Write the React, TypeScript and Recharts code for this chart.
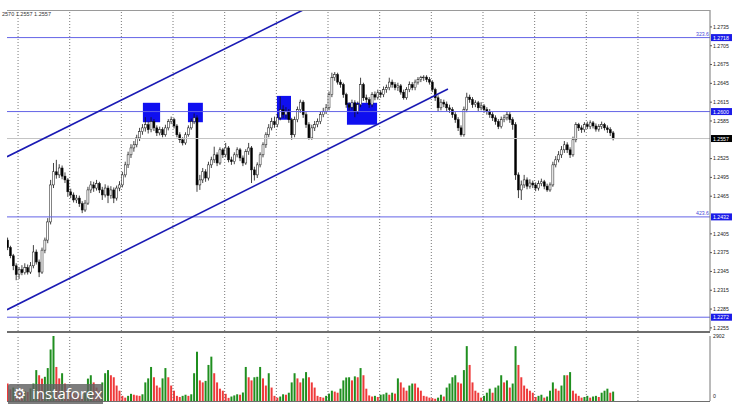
import React from 'react';
import { ComposedChart, Bar, XAxis, YAxis, ReferenceLine, ReferenceArea, Cell } from 'recharts';

// ---- data ----
const opens = [
  1.2395, 1.2383, 1.2370, 1.2354, 1.2340, 1.2348, 1.2343, 1.2351, 1.2344, 1.2354,
  1.2376, 1.2360, 1.2344, 1.2379, 1.2395, 1.2424, 1.2483, 1.2504, 1.2499, 1.2510,
  1.2497, 1.2491, 1.2472, 1.2467, 1.2459, 1.2462, 1.2453, 1.2443, 1.2454, 1.2475,
  1.2483, 1.2478, 1.2485, 1.2475, 1.2467, 1.2478, 1.2466, 1.2475, 1.2462, 1.2478,
  1.2483, 1.2499, 1.2515, 1.2531, 1.2542, 1.2547, 1.2558, 1.2568, 1.2574, 1.2579,
  1.2571, 1.2584, 1.2574, 1.2566, 1.2571, 1.2563, 1.2574, 1.2584, 1.2587, 1.2577,
  1.2563, 1.2555, 1.2550, 1.2563, 1.2574, 1.2584, 1.2590, 1.2483, 1.2491, 1.2504,
  1.2494, 1.2515, 1.2523, 1.2531, 1.2518, 1.2539, 1.2531, 1.2542, 1.2523, 1.2520,
  1.2531, 1.2539, 1.2526, 1.2518, 1.2536, 1.2542, 1.2507, 1.2499, 1.2515, 1.2531,
  1.2547, 1.2563, 1.2574, 1.2584, 1.2579, 1.2590, 1.2603, 1.2595, 1.2600, 1.2587,
  1.2563, 1.2587, 1.2603, 1.2615, 1.2595, 1.2579, 1.2558, 1.2574, 1.2579, 1.2584,
  1.2595, 1.2600, 1.2606, 1.2627, 1.2654, 1.2659, 1.2647, 1.2643, 1.2627, 1.2611,
  1.2607, 1.2614, 1.2600, 1.2611, 1.2643, 1.2622, 1.2619, 1.2611, 1.2627, 1.2623,
  1.2630, 1.2627, 1.2635, 1.2638, 1.2647, 1.2643, 1.2638, 1.2641, 1.2631, 1.2622,
  1.2635, 1.2643, 1.2638, 1.2647, 1.2651, 1.2654, 1.2655, 1.2651, 1.2647, 1.2635,
  1.2622, 1.2606, 1.2615, 1.2612, 1.2606, 1.2603, 1.2595, 1.2587, 1.2574, 1.2563,
  1.2603, 1.2623, 1.2619, 1.2611, 1.2614, 1.2606, 1.2609, 1.2603, 1.2600, 1.2595,
  1.2590, 1.2584, 1.2576, 1.2587, 1.2590, 1.2595, 1.2587, 1.2579, 1.2499, 1.2475,
  1.2483, 1.2491, 1.2481, 1.2486, 1.2483, 1.2478, 1.2485, 1.2488, 1.2481, 1.2475,
  1.2483, 1.2515, 1.2523, 1.2531, 1.2539, 1.2547, 1.2539, 1.2531, 1.2555, 1.2579,
  1.2574, 1.2571, 1.2579, 1.2576, 1.2582, 1.2577, 1.2572, 1.2576, 1.2579, 1.2574,
  1.2571, 1.2566,
];

const highs = [
  1.2399, 1.2386, 1.2373, 1.2358, 1.2352, 1.2355, 1.2358, 1.2356, 1.2360, 1.2387,
  1.2380, 1.2364, 1.2383, 1.2399, 1.2430, 1.2491, 1.2518, 1.2523, 1.2516, 1.2514,
  1.2503, 1.2494, 1.2477, 1.2471, 1.2467, 1.2466, 1.2457, 1.2459, 1.2480, 1.2489,
  1.2488, 1.2491, 1.2488, 1.2480, 1.2484, 1.2482, 1.2481, 1.2479, 1.2482, 1.2489,
  1.2504, 1.2520, 1.2536, 1.2548, 1.2553, 1.2563, 1.2574, 1.2580, 1.2591, 1.2584,
  1.2591, 1.2588, 1.2578, 1.2576, 1.2575, 1.2579, 1.2588, 1.2592, 1.2590, 1.2580,
  1.2567, 1.2559, 1.2567, 1.2578, 1.2589, 1.2597, 1.2594, 1.2499, 1.2510, 1.2508,
  1.2520, 1.2528, 1.2544, 1.2535, 1.2543, 1.2542, 1.2550, 1.2545, 1.2528, 1.2535,
  1.2543, 1.2542, 1.2530, 1.2540, 1.2550, 1.2545, 1.2512, 1.2519, 1.2535, 1.2551,
  1.2567, 1.2580, 1.2590, 1.2592, 1.2596, 1.2624, 1.2610, 1.2607, 1.2604, 1.2590,
  1.2592, 1.2608, 1.2619, 1.2618, 1.2599, 1.2583, 1.2579, 1.2585, 1.2589, 1.2600,
  1.2606, 1.2612, 1.2632, 1.2662, 1.2663, 1.2662, 1.2651, 1.2646, 1.2630, 1.2615,
  1.2619, 1.2618, 1.2616, 1.2654, 1.2646, 1.2627, 1.2623, 1.2631, 1.2632, 1.2635,
  1.2634, 1.2640, 1.2643, 1.2654, 1.2651, 1.2647, 1.2646, 1.2644, 1.2635, 1.2639,
  1.2648, 1.2647, 1.2651, 1.2655, 1.2657, 1.2658, 1.2658, 1.2655, 1.2650, 1.2638,
  1.2626, 1.2620, 1.2619, 1.2616, 1.2611, 1.2607, 1.2599, 1.2591, 1.2578, 1.2608,
  1.2630, 1.2627, 1.2623, 1.2618, 1.2617, 1.2615, 1.2612, 1.2607, 1.2604, 1.2599,
  1.2594, 1.2588, 1.2592, 1.2595, 1.2600, 1.2599, 1.2591, 1.2583, 1.2503, 1.2490,
  1.2499, 1.2495, 1.2492, 1.2490, 1.2487, 1.2490, 1.2493, 1.2491, 1.2485, 1.2487,
  1.2520, 1.2529, 1.2537, 1.2545, 1.2553, 1.2551, 1.2543, 1.2560, 1.2583, 1.2582,
  1.2578, 1.2583, 1.2584, 1.2586, 1.2585, 1.2581, 1.2580, 1.2584, 1.2582, 1.2578,
  1.2575, 1.2569,
];

const lows = [
  1.2379, 1.2366, 1.2347, 1.2331, 1.2333, 1.2339, 1.2340, 1.2340, 1.2341, 1.2350,
  1.2356, 1.2336, 1.2341, 1.2374, 1.2390, 1.2420, 1.2478, 1.2493, 1.2494, 1.2492,
  1.2486, 1.2464, 1.2462, 1.2455, 1.2454, 1.2448, 1.2438, 1.2440, 1.2451, 1.2470,
  1.2472, 1.2474, 1.2470, 1.2459, 1.2463, 1.2454, 1.2461, 1.2454, 1.2458, 1.2473,
  1.2479, 1.2495, 1.2510, 1.2526, 1.2536, 1.2543, 1.2553, 1.2563, 1.2568, 1.2565,
  1.2567, 1.2569, 1.2561, 1.2562, 1.2559, 1.2560, 1.2570, 1.2580, 1.2573, 1.2559,
  1.2550, 1.2546, 1.2547, 1.2560, 1.2571, 1.2580, 1.2472, 1.2475, 1.2486, 1.2488,
  1.2490, 1.2510, 1.2518, 1.2513, 1.2515, 1.2526, 1.2527, 1.2519, 1.2515, 1.2516,
  1.2527, 1.2521, 1.2513, 1.2515, 1.2531, 1.2486, 1.2490, 1.2494, 1.2511, 1.2527,
  1.2542, 1.2559, 1.2570, 1.2574, 1.2575, 1.2586, 1.2590, 1.2589, 1.2582, 1.2555,
  1.2559, 1.2583, 1.2598, 1.2590, 1.2574, 1.2555, 1.2555, 1.2569, 1.2575, 1.2580,
  1.2591, 1.2596, 1.2602, 1.2623, 1.2649, 1.2643, 1.2638, 1.2622, 1.2606, 1.2602,
  1.2603, 1.2591, 1.2596, 1.2607, 1.2617, 1.2614, 1.2606, 1.2607, 1.2618, 1.2619,
  1.2622, 1.2623, 1.2630, 1.2634, 1.2638, 1.2634, 1.2633, 1.2627, 1.2619, 1.2619,
  1.2631, 1.2634, 1.2634, 1.2643, 1.2647, 1.2649, 1.2647, 1.2643, 1.2631, 1.2617,
  1.2600, 1.2602, 1.2607, 1.2601, 1.2598, 1.2590, 1.2582, 1.2569, 1.2560, 1.2560,
  1.2599, 1.2614, 1.2606, 1.2607, 1.2601, 1.2602, 1.2598, 1.2595, 1.2590, 1.2585,
  1.2579, 1.2572, 1.2573, 1.2583, 1.2586, 1.2582, 1.2571, 1.2491, 1.2462, 1.2459,
  1.2478, 1.2476, 1.2477, 1.2478, 1.2473, 1.2474, 1.2481, 1.2476, 1.2472, 1.2472,
  1.2480, 1.2511, 1.2519, 1.2526, 1.2534, 1.2534, 1.2526, 1.2528, 1.2551, 1.2569,
  1.2566, 1.2567, 1.2572, 1.2572, 1.2573, 1.2568, 1.2568, 1.2572, 1.2570, 1.2566,
  1.2561, 1.2554,
];

const closes = [
  1.2383, 1.2370, 1.2354, 1.2340, 1.2348, 1.2343, 1.2351, 1.2344, 1.2354, 1.2376,
  1.2360, 1.2344, 1.2379, 1.2395, 1.2424, 1.2483, 1.2504, 1.2499, 1.2510, 1.2497,
  1.2491, 1.2472, 1.2467, 1.2459, 1.2462, 1.2453, 1.2443, 1.2454, 1.2475, 1.2483,
  1.2478, 1.2485, 1.2475, 1.2467, 1.2478, 1.2466, 1.2475, 1.2462, 1.2478, 1.2483,
  1.2499, 1.2515, 1.2531, 1.2542, 1.2547, 1.2558, 1.2568, 1.2574, 1.2579, 1.2571,
  1.2584, 1.2574, 1.2566, 1.2571, 1.2563, 1.2574, 1.2584, 1.2587, 1.2577, 1.2563,
  1.2555, 1.2550, 1.2563, 1.2574, 1.2584, 1.2590, 1.2483, 1.2491, 1.2504, 1.2494,
  1.2515, 1.2523, 1.2531, 1.2518, 1.2539, 1.2531, 1.2542, 1.2523, 1.2520, 1.2531,
  1.2539, 1.2526, 1.2518, 1.2536, 1.2542, 1.2507, 1.2499, 1.2515, 1.2531, 1.2547,
  1.2563, 1.2574, 1.2584, 1.2579, 1.2590, 1.2603, 1.2595, 1.2600, 1.2587, 1.2563,
  1.2587, 1.2603, 1.2615, 1.2595, 1.2579, 1.2558, 1.2574, 1.2579, 1.2584, 1.2595,
  1.2600, 1.2606, 1.2627, 1.2654, 1.2659, 1.2647, 1.2643, 1.2627, 1.2611, 1.2607,
  1.2614, 1.2600, 1.2611, 1.2643, 1.2622, 1.2619, 1.2611, 1.2627, 1.2623, 1.2630,
  1.2627, 1.2635, 1.2638, 1.2647, 1.2643, 1.2638, 1.2641, 1.2631, 1.2622, 1.2635,
  1.2643, 1.2638, 1.2647, 1.2651, 1.2654, 1.2655, 1.2651, 1.2647, 1.2635, 1.2622,
  1.2606, 1.2615, 1.2612, 1.2606, 1.2603, 1.2595, 1.2587, 1.2574, 1.2563, 1.2603,
  1.2623, 1.2619, 1.2611, 1.2614, 1.2606, 1.2609, 1.2603, 1.2600, 1.2595, 1.2590,
  1.2584, 1.2576, 1.2587, 1.2590, 1.2595, 1.2587, 1.2579, 1.2499, 1.2475, 1.2483,
  1.2491, 1.2481, 1.2486, 1.2483, 1.2478, 1.2485, 1.2488, 1.2481, 1.2475, 1.2483,
  1.2515, 1.2523, 1.2531, 1.2539, 1.2547, 1.2539, 1.2531, 1.2555, 1.2579, 1.2574,
  1.2571, 1.2579, 1.2576, 1.2582, 1.2577, 1.2572, 1.2576, 1.2579, 1.2574, 1.2571,
  1.2566, 1.2557,
];

const volumes = [
  780, 520, 600, 480, 420, 380, 450, 400, 560, 780,
  1380, 1150, 1000, 1080, 1470, 2300, 2902, 1520, 1010, 1240,
  780, 550, 420, 350, 300, 260, 230, 350, 1000, 1150,
  830, 600, 460, 830, 1240, 1380, 1150, 1060, 690, 460,
  230, 150, 230, 320, 280, 250, 230, 300, 830, 1010,
  1520, 1060, 690, 600, 1010, 1470, 1060, 690, 460, 230,
  180, 230, 280, 230, 300, 1240, 2200, 920, 830, 900,
  1610, 1980, 1240, 830, 550, 460, 320, 140, 200, 250,
  300, 280, 380, 1520, 1060, 920, 1060, 1080, 1520, 1010,
  690, 1240, 600, 230, 150, 200, 300, 280, 370, 830,
  1240, 1010, 830, 1010, 1290, 1060, 830, 600, 230, 180,
  150, 230, 330, 460, 420, 370, 550, 920, 1050, 1060,
  920, 1100, 1060, 1470, 1150, 550, 250, 200, 230, 180,
  280, 300, 370, 280, 370, 330, 1010, 830, 600, 460,
  690, 780, 780, 600, 460, 230, 200, 150, 130, 100,
  150, 280, 200, 600, 780, 1060, 1150, 830, 780, 1380,
  2450, 1610, 830, 460, 370, 150, 230, 370, 550, 370,
  600, 690, 1150, 830, 920, 600, 780, 2450, 1610, 1060,
  690, 550, 460, 370, 180, 230, 280, 150, 200, 460,
  830, 550, 460, 690, 1150, 1150, 1290, 460, 330, 230,
  150, 180, 230, 150, 200, 230, 180, 370, 460, 550,
  370, 420,
];

const priceTicks = [1.2735, 1.2705, 1.2675, 1.2645, 1.2615, 1.2585, 1.2525, 1.2495, 1.2465, 1.2405, 1.2375, 1.2345, 1.2315, 1.2285, 1.2255];
const volumeTicks = [0, 2902];
const levelPrices = [1.2718, 1.26, 1.2432, 1.2272];
const levelTags = ['323.6', '', '423.6', ''];
const lastPrice = 1.2557;
const dayStarts = [3.5, 21.5, 39.5, 57.5, 75.5, 93.5, 111.5, 129.5, 147.5, 165.5, 183.5, 201.5, 219.5];
// channel lines: [barIndex, price]
const upperChannel = [[-0.35, 1.2528], [102.8, 1.2762]];
const lowerChannel = [[-0.35, 1.2284], [153.3, 1.2636]];
// marked zones: [fromBar, toBar, lowPrice, highPrice]
const zones = [
  [47.0, 53.0, 1.2583, 1.2614],
  [62.7, 67.9, 1.2583, 1.2614],
  [93.7, 98.6, 1.2587, 1.2625],
  [118.1, 128.6, 1.2579, 1.2614],
];
const headerText = '2570 1.2557 1.2557';

// ---- layout / style ----
const X_DOMAIN: [number, number] = [-0.35, 244.6];
const PRICE_DOMAIN: [number, number] = [1.225, 1.2762];
const LEVEL_COLOR = '#6464e6';
const TAG_BLUE = '#1c1ce8';
const CHANNEL_COLOR = '#1a1ab4';
const FONT = '"Liberation Sans", Arial, sans-serif';

const rows = closes.map((c, i) => ({
  i,
  open: opens[i],
  high: highs[i],
  low: lows[i],
  close: c,
  range: [lows[i], highs[i]],
  volume: volumes[i],
}));

const Candle = (props: any) => {
  const { x, y, width, height, payload } = props;
  if (x == null || y == null) return null;
  const { open, close, high, low } = payload;
  const cx = x + width / 2;
  const span = high - low;
  const py = (v: number) => (span === 0 ? y : y + ((high - v) / span) * height);
  const top = py(Math.max(open, close));
  const bot = py(Math.min(open, close));
  const bull = close >= open;
  return (
    <g>
      <line x1={cx} x2={cx} y1={y} y2={y + height} stroke="#111" strokeWidth={0.8} />
      <rect
        x={cx - 1}
        y={top}
        width={2}
        height={Math.max(bot - top, 0.7)}
        fill={bull ? '#ffffff' : '#000000'}
        stroke="#111"
        strokeWidth={0.5}
      />
    </g>
  );
};

const Tag = (props: any) => {
  const { viewBox, text, bg, note } = props;
  if (!viewBox) return null;
  const { x, y, width } = viewBox;
  return (
    <g>
      {note ? (
        <text x={x + width - 1} y={y - 1.5} fontSize={5.2} fill="#4a4ad8" textAnchor="end" fontFamily={FONT}>
          {note}
        </text>
      ) : null}
      <rect x={x + width + 1} y={y - 3.5} width={21} height={7} fill={bg} />
      <text x={x + width + 3} y={y + 2} fontSize={5.2} fill="#ffffff" fontFamily={FONT}>
        {text}
      </text>
    </g>
  );
};

const VolTick = (props: any) => {
  const { x, y, payload } = props;
  return (
    <text x={x} y={payload.value === 0 ? y - 3 : y + 2} fontSize={5.2} fill="#222" fontFamily={FONT}>
      {payload.value}
    </text>
  );
};

const line = (style: React.CSSProperties) => <div style={{ position: 'absolute', ...style }} />;

export default function App() {
  return (
    <div
      style={{
        position: 'absolute',
        left: 0,
        top: 0,
        width: 734,
        height: 404,
        overflow: 'hidden',
        background: '#ffffff',
        fontFamily: FONT,
      }}
    >
      <div style={{ position: 'absolute', left: 0, top: 0 }}>
        <ComposedChart width={734} height={332} data={rows} margin={{ top: 10, right: 0, bottom: 1, left: 7 }}>
          <XAxis dataKey="i" type="number" domain={X_DOMAIN} allowDataOverflow hide />
          <YAxis
            yAxisId={0}
            orientation="right"
            width={24}
            domain={PRICE_DOMAIN}
            allowDataOverflow
            ticks={priceTicks}
            interval={0}
            tickFormatter={(v: number) => v.toFixed(4)}
            tick={{ fontSize: 5.2, fill: '#222', fontFamily: FONT }}
            tickSize={2}
            tickMargin={1}
            axisLine={{ stroke: '#777' }}
            tickLine={{ stroke: '#555' }}
          />
          {dayStarts.map((d) => (
            <ReferenceLine key={'g' + d} x={d} stroke="#555" strokeDasharray="1 2" strokeWidth={0.8} />
          ))}
          {zones.map((z, k) => (
            <ReferenceArea
              key={'z' + k}
              x1={z[0]}
              x2={z[1]}
              y1={z[2]}
              y2={z[3]}
              fill="#0f0ff0"
              fillOpacity={1}
              stroke="none"
              ifOverflow="visible"
            />
          ))}
          <ReferenceLine
            y={lastPrice}
            stroke="#c4c4c4"
            strokeWidth={1}
            label={<Tag text={lastPrice.toFixed(4)} bg="#000000" />}
          />
          {levelPrices.map((p, k) => (
            <ReferenceLine
              key={'l' + p}
              y={p}
              stroke={LEVEL_COLOR}
              strokeWidth={1}
              label={<Tag text={p.toFixed(4)} bg={TAG_BLUE} note={levelTags[k]} />}
            />
          ))}
          <Bar dataKey="range" barSize={2} shape={Candle} isAnimationActive={false} />
          <ReferenceLine
            segment={[
              { x: upperChannel[0][0], y: upperChannel[0][1] },
              { x: upperChannel[1][0], y: upperChannel[1][1] },
            ]}
            stroke={CHANNEL_COLOR}
            strokeWidth={1.6}
            ifOverflow="hidden"
          />
          <ReferenceLine
            segment={[
              { x: lowerChannel[0][0], y: lowerChannel[0][1] },
              { x: lowerChannel[1][0], y: lowerChannel[1][1] },
            ]}
            stroke={CHANNEL_COLOR}
            strokeWidth={1.6}
            ifOverflow="hidden"
          />
        </ComposedChart>
      </div>

      <div style={{ position: 'absolute', left: 0, top: 332 }}>
        <ComposedChart width={734} height={80} data={rows} margin={{ top: 4, right: 0, bottom: 11, left: 7 }}>
          <XAxis dataKey="i" type="number" domain={X_DOMAIN} allowDataOverflow hide />
          <YAxis
            orientation="right"
            width={24}
            domain={[0, 2902]}
            allowDataOverflow
            ticks={volumeTicks}
            interval={0}
            tick={<VolTick />}
            tickSize={0}
            tickMargin={3}
            axisLine={{ stroke: '#777' }}
            tickLine={false}
          />
          {dayStarts.map((d) => (
            <ReferenceLine key={'vg' + d} x={d} stroke="#555" strokeDasharray="1 2" strokeWidth={0.8} />
          ))}
          <Bar dataKey="volume" barSize={2} isAnimationActive={false}>
            {rows.map((r, i) => (
              <Cell key={i} fill={i > 0 && r.volume > volumes[i - 1] ? '#1f8f1f' : '#ee3a3a'} />
            ))}
          </Bar>
        </ComposedChart>
      </div>

      {line({ left: 7, top: 10, width: 703, height: 1, background: '#9a9a9a' })}
      {line({ left: 7, top: 331, width: 703, height: 2, background: '#6e6e6e' })}
      {line({ left: 7, top: 401, width: 703, height: 1, background: '#6e6e6e' })}

      <div style={{ position: 'absolute', left: 2, top: 11, fontSize: 5.5, color: '#333', whiteSpace: 'nowrap' }}>
        {headerText}
      </div>

      <div
        style={{
          position: 'absolute',
          left: 8,
          top: 384,
          width: 95,
          height: 24,
          background: 'rgba(96,96,96,0.82)',
          borderRadius: 2,
          color: '#ffffff',
          whiteSpace: 'nowrap',
        }}
      >
        <span style={{ position: 'absolute', left: 5, top: 1, fontSize: 15, fontFamily: '"DejaVu Sans", sans-serif' }}>⚙</span>
        <span style={{ position: 'absolute', left: 24, top: -1, fontSize: 15, fontFamily: '"Open Sans", sans-serif' }}>
          instaforex
        </span>
      </div>
    </div>
  );
}
